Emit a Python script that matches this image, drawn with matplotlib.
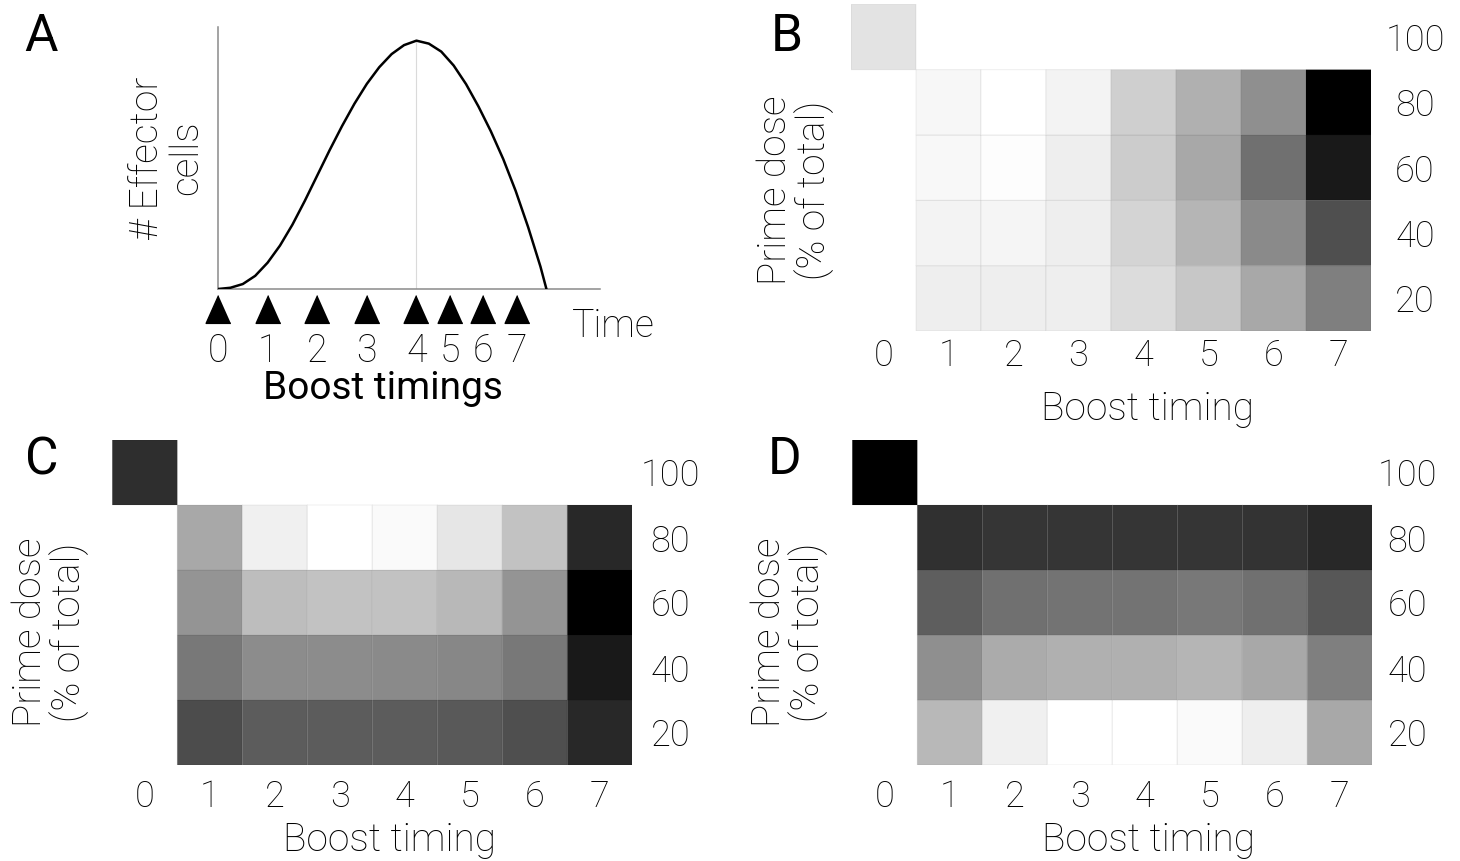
import numpy as np
import matplotlib
matplotlib.use("Agg")
import matplotlib.pyplot as plt
from matplotlib import font_manager as fm

# ---------------- data ----------------
boost_labels = ["0", "1", "2", "3", "4", "5", "6", "7"]
prime_doses = [20, 40, 60, 80, 100]
dose_labels = ["20", "40", "60", "80", "100"]

# Panel A: schematic effector-cell curve (time units, relative cell number)
curve_t = [0.0, 0.25, 0.5, 0.75, 1.0, 1.25, 1.5, 1.75, 2.0, 2.25, 2.5, 2.75,
           3.0, 3.25, 3.5, 3.75, 4.0, 4.25, 4.5, 4.75, 5.0, 5.25, 5.5, 5.75,
           6.0, 6.25, 6.5, 6.62]
curve_v = [0.0, 0.005, 0.02, 0.053, 0.106, 0.175, 0.259, 0.355, 0.457, 0.559,
           0.656, 0.746, 0.826, 0.893, 0.946, 0.982, 1.0, 0.988, 0.956, 0.90,
           0.825, 0.735, 0.635, 0.523, 0.395, 0.25, 0.09, 0.0]
boost_times = [0.0, 1.0, 2.0, 3.0, 4.0, 4.67, 5.34, 6.02]

# Heatmaps: relative level (0 = white, 1 = black); rows = prime dose 80,60,40,20; cols = boost 1..7
B_prime_only = 0.11
B_values = [
    [0.035, 0.00, 0.05, 0.19, 0.31, 0.44, 1.00],
    [0.03, 0.01, 0.07, 0.20, 0.34, 0.56, 0.90],
    [0.05, 0.04, 0.07, 0.17, 0.29, 0.46, 0.69],
    [0.07, 0.07, 0.07, 0.14, 0.22, 0.34, 0.50],
]
C_prime_only = 0.82
C_values = [
    [0.34, 0.06, 0.00, 0.02, 0.10, 0.24, 0.84],
    [0.42, 0.26, 0.24, 0.24, 0.28, 0.42, 1.00],
    [0.53, 0.45, 0.45, 0.46, 0.47, 0.53, 0.90],
    [0.70, 0.64, 0.64, 0.64, 0.65, 0.69, 0.84],
]
D_prime_only = 1.00
D_values = [
    [0.81, 0.79, 0.79, 0.79, 0.79, 0.80, 0.84],
    [0.63, 0.56, 0.55, 0.55, 0.53, 0.56, 0.66],
    [0.44, 0.33, 0.31, 0.31, 0.29, 0.34, 0.50],
    [0.28, 0.06, 0.00, 0.00, 0.02, 0.07, 0.34],
]

# ---------------- fonts ----------------
def pick_light_family():
    wmap = {"thin": 100, "extralight": 200, "ultralight": 200, "extra light": 200,
            "light": 300, "normal": 400, "regular": 400}
    for fam in ["Roboto", "Open Sans", "Lato", "Inter", "Noto Sans"]:
        for f in fm.fontManager.ttflist:
            if f.name == fam:
                w = f.weight
                wn = w if isinstance(w, (int, float)) else wmap.get(str(w).lower(), 400)
                if 250 <= wn <= 350:
                    return fam
    return None

light_fam = pick_light_family()
if light_fam:
    plt.rcParams["font.family"] = [light_fam, "DejaVu Sans"]
    LW = "light"
else:
    plt.rcParams["font.family"] = ["Liberation Sans", "DejaVu Sans"]
    LW = "normal"
plt.rcParams["font.weight"] = LW

W, H = 1460, 861
fig = plt.figure(figsize=(W / 100, H / 100), dpi=100)


def rect(l, t, r, b):
    return [l / W, 1 - b / H, (r - l) / W, (b - t) / H]


TICK = 26
LAB = 28

# ---------------- panel A ----------------
axA = fig.add_axes(rect(218, 27, 600, 289))
axA.plot(curve_t, curve_v, color="black", lw=1.8, solid_capstyle="round",
         solid_joinstyle="round", zorder=3)
ipk = int(np.argmax(curve_v))
axA.vlines(curve_t[ipk], 0, curve_v[ipk], color="#dadada", lw=0.8, zorder=1)
tri = [(0, 1), (-0.89, -1), (0.89, -1)]
axA.plot(boost_times, [-0.0805] * len(boost_times), ls="none", marker=tri, ms=20,
         color="black", clip_on=False)
axA.set_xlim(0, 7.70)
axA.set_ylim(0, 1.055)
for s in ["top", "right"]:
    axA.spines[s].set_visible(False)
for s in ["left", "bottom"]:
    axA.spines[s].set_color("#8a8a8a")
    axA.spines[s].set_linewidth(1.1)
axA.set_yticks([])
axA.set_xticks(boost_times, boost_labels)
axA.tick_params(axis="x", length=0, pad=31, labelsize=27)
axA.set_xlabel("Boost timings", fontsize=LAB, fontweight="normal", va="center")
axA.xaxis.set_label_coords(0.432, -0.378)
axA.set_ylabel("# Effector\ncells", fontsize=LAB, fontweight=LW, va="center",
               linespacing=1.05)
axA.yaxis.set_label_coords(-0.1335, 0.5)
axA.text(0.927, -0.141, "Time", transform=axA.transAxes, fontsize=27,
         fontweight=LW, ha="left", va="center")


# ---------------- heatmaps ----------------
def heat(rpx, prime_only, values, xpad, ypad, xl, yl):
    ax = fig.add_axes(rect(*rpx))
    data = np.full((5, 8), np.nan)
    data[4, 0] = prime_only
    data[0:4, 1:8] = np.array(values)[::-1]
    xe = np.arange(-0.5, 8.5, 1.0)
    ye = np.arange(10, 111, 20)
    ax.pcolor(xe, ye, np.ma.masked_invalid(data), cmap="gray_r", vmin=0, vmax=1,
              edgecolors=(0, 0, 0, 0.06), linewidth=0.8)
    ax.set_xlim(-0.5, 7.5)
    ax.set_ylim(10, 110)
    for s in ax.spines.values():
        s.set_visible(False)
    ax.set_xticks(range(8), boost_labels)
    ax.set_yticks(prime_doses, dose_labels)
    ax.yaxis.tick_right()
    ax.tick_params(length=0, labelsize=TICK)
    ax.tick_params(axis="x", pad=xpad)
    ax.tick_params(axis="y", pad=ypad)
    for lab in ax.get_yticklabels():
        lab.set_horizontalalignment("center")
    ax.set_xlabel("Boost timing", fontsize=LAB, fontweight=LW, va="center")
    ax.xaxis.set_label_coords(*xl)
    ax.set_ylabel("Prime dose\n(% of total)", fontsize=LAB, fontweight=LW,
                  va="center", linespacing=1.0)
    ax.yaxis.set_label_coords(*yl)
    return ax


heat((851, 4.3, 1371, 331), B_prime_only, B_values, 5, 31.7, (0.571, -0.2385), (-0.108, 0.432))
heat((112.3, 440, 632.3, 765), C_prime_only, C_values, 10, 27.4, (0.534, -0.231), (-0.12, 0.409))
heat((852.3, 440, 1372.3, 765), D_prime_only, D_values, 10, 25.2, (0.569, -0.231), (-0.122, 0.409))

# panel letters
for letter, (x, y) in {"A": (41, 37), "B": (787, 37), "C": (42, 460), "D": (785, 460)}.items():
    fig.text(x / W, 1 - y / H, letter, fontsize=37, fontweight="normal",
             ha="center", va="center")

fig.savefig("out.png", dpi=100)
